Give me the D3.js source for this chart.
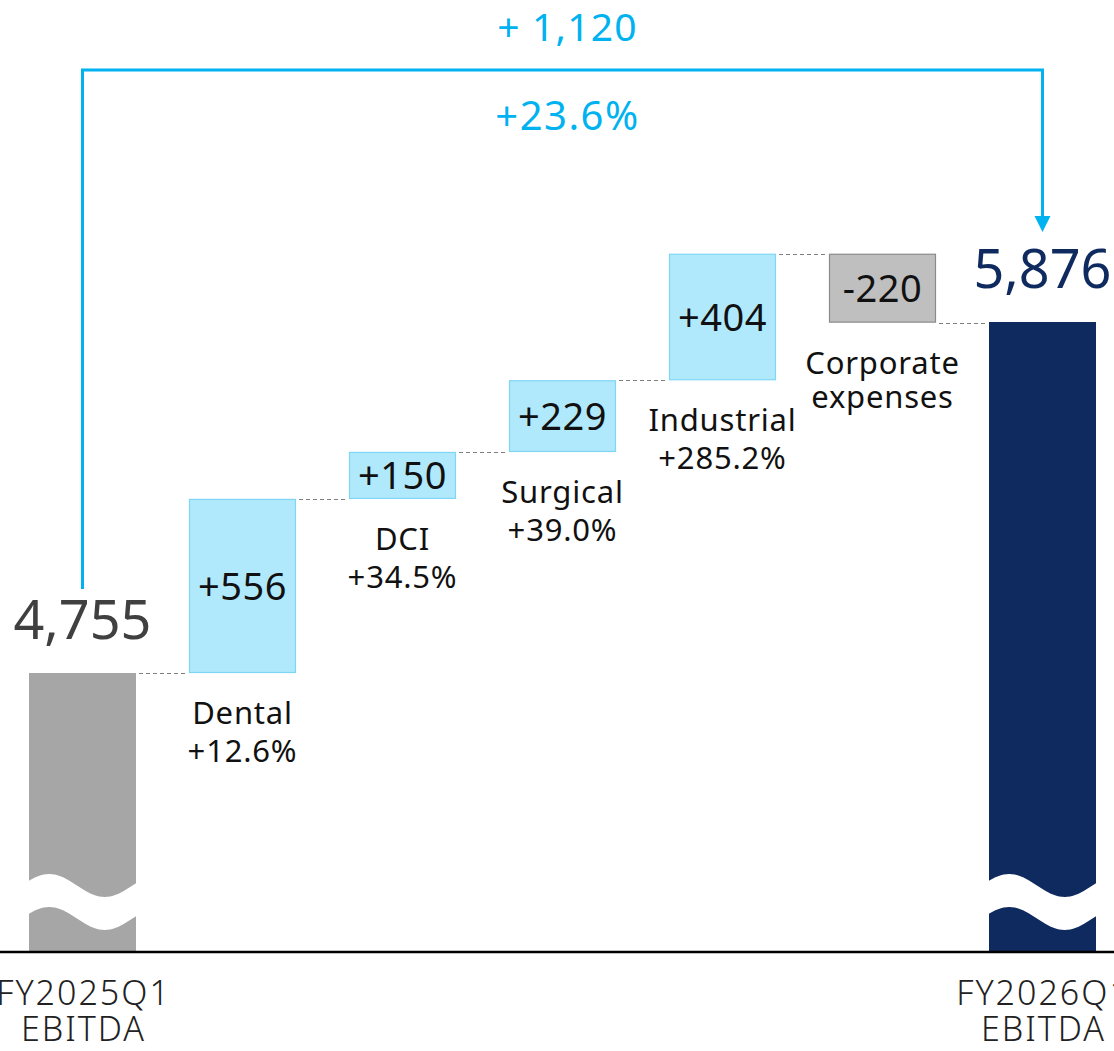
<!DOCTYPE html>
<html>
<head>
<meta charset="utf-8">
<title>EBITDA bridge</title>
<script src="https://cdn.jsdelivr.net/npm/d3@7"></script>
<style>
  body { margin: 0; background: #fff; }
  svg text { font-family: "Noto Sans", sans-serif; }
  .light { font-weight: 300; }
</style>
</head>
<body>
<div id="chart"></div>
<script>
// values
var startLabel = ["FY2025Q1", "EBITDA"];
var endLabel = ["FY2026Q1", "EBITDA"];
var startValue = 4755;
var endValue = 5876;
var stepNames = ["Dental", "DCI", "Surgical", "Industrial", "Corporate"];
var stepLabels = [["Dental", "+12.6%"], ["DCI", "+34.5%"], ["Surgical", "+39.0%"], ["Industrial", "+285.2%"], ["Corporate", "expenses"]];
var deltas = [556, 150, 229, 404, -220];
var totalChange = "+ 1,120";
var totalPct = "+23.6%";

var width = 1114, height = 1051;
var baseY = 952;
var cyan = "#00b2ef", navy = "#0f2a5e";

var svg = d3.select("#chart").append("svg")
  .attr("width", width)
  .attr("height", height);

var cats = ["start"].concat(stepNames, ["end"]);
var x = d3.scaleBand()
  .domain(cats)
  .range([2.5, 1122.5])
  .paddingInner(0.33125)
  .paddingOuter(0.165625);

var y = d3.scaleLinear()
  .domain([startValue, endValue])
  .range([673, 322]);

// running totals
var steps = [];
var cum = startValue;
deltas.forEach(function(d, i) {
  steps.push({ name: stepNames[i], label: stepLabels[i], d: d, from: cum, to: cum + d });
  cum += d;
});

var bw = x.bandwidth();

// connectors
var levels = [startValue].concat(steps.map(function(s) { return s.to; }));
svg.selectAll(".conn").data(levels).enter().append("line")
  .attr("class", "conn")
  .attr("x1", function(v, i) { return x(cats[i]) + bw + 3; })
  .attr("x2", function(v, i) { return x(cats[i + 1]) - 3; })
  .attr("y1", function(v) { return Math.round(y(v)) + 0.5; })
  .attr("y2", function(v) { return Math.round(y(v)) + 0.5; })
  .attr("stroke", "#7f7f7f")
  .attr("stroke-width", 1.2)
  .attr("stroke-dasharray", "4,3");

// total bars (broken axis)
var totals = [{ k: "start", v: startValue, fill: "#a6a6a6", tc: "#404040" },
              { k: "end", v: endValue, fill: navy, tc: navy }];

svg.selectAll(".tot").data(totals).enter().append("rect")
  .attr("class", "tot")
  .attr("x", function(d) { return x(d.k); })
  .attr("y", function(d) { return y(d.v); })
  .attr("width", bw)
  .attr("height", function(d) { return baseY - y(d.v); })
  .attr("fill", function(d) { return d.fill; });

// wavy break
function wavePath(x0, w) {
  var top = [], bot = [];
  var n = 40, th = 16.5;
  for (var i = 0; i <= n; i++) {
    var t = i / n;
    var cy = baseY - 50 - 11.5 * Math.cos(2 * Math.PI * (t - 0.2));
    top.push([x0 - 2 + t * (w + 4), cy - th]);
    bot.push([x0 - 2 + t * (w + 4), cy + th]);
  }
  return d3.line()(top.concat(bot.reverse())) + "Z";
}
svg.selectAll(".brk").data(totals).enter().append("path")
  .attr("class", "brk")
  .attr("d", function(d) { return wavePath(x(d.k), bw); })
  .attr("fill", "#fff");

svg.selectAll(".totlbl").data(totals).enter().append("text")
  .attr("class", "totlbl")
  .attr("x", function(d) { return x(d.k) + bw / 2; })
  .attr("y", function(d) { return y(d.v) - 34; })
  .attr("text-anchor", "middle")
  .attr("font-size", 54)
  .attr("fill", function(d) { return d.tc; })
  .text(function(d) { return d3.format(",")(d.v); });

// delta boxes
svg.selectAll(".step").data(steps).enter().append("rect")
  .attr("class", "step")
  .attr("x", function(s) { return x(s.name) + 0.5; })
  .attr("y", function(s) { return y(Math.max(s.from, s.to)) + 0.5; })
  .attr("width", bw - 1)
  .attr("height", function(s) { return Math.abs(y(s.from) - y(s.to)) - 1; })
  .attr("fill", function(s) { return s.d > 0 ? "#b1e9fc" : "#bfbfbf"; })
  .attr("stroke", function(s) { return s.d > 0 ? "#7fd5f6" : "#8a8a8a"; })
  .attr("stroke-width", 1.2);

svg.selectAll(".steplbl").data(steps).enter().append("text")
  .attr("class", "steplbl")
  .attr("x", function(s) { return x(s.name) + bw / 2; })
  .attr("y", function(s) { return (y(s.from) + y(s.to)) / 2; })
  .attr("dy", "0.36em")
  .attr("text-anchor", "middle")
  .attr("font-size", 38)
  .attr("letter-spacing", 0.5)
  .attr("fill", "#111")
  .text(function(s) { return (s.d > 0 ? "+" : "") + s.d; });

// category labels under boxes
svg.selectAll(".catlbl").data(steps).enter().append("text")
  .attr("class", "catlbl")
  .attr("text-anchor", "middle")
  .attr("font-size", 31)
  .attr("letter-spacing", 0.8)
  .attr("fill", "#111")
  .each(function(s) {
    var t = d3.select(this);
    var cx = x(s.name) + bw / 2;
    var y0 = y(Math.min(s.from, s.to)) + 51;
    var lh = s.d > 0 ? 38 : 34;
    s.label.forEach(function(line, j) {
      t.append("tspan").attr("x", cx).attr("y", y0 + j * lh).text(line);
    });
  });

// axis line and end labels
svg.append("line")
  .attr("x1", 0).attr("x2", width)
  .attr("y1", baseY).attr("y2", baseY)
  .attr("stroke", "#000").attr("stroke-width", 2.5);

[{ k: "start", l: startLabel }, { k: "end", l: endLabel }].forEach(function(a) {
  var t = svg.append("text")
    .attr("class", "light")
    .attr("text-anchor", "middle")
    .attr("font-size", 34)
    .attr("letter-spacing", 2)
    .attr("fill", "#222");
  a.l.forEach(function(line, j) {
    t.append("tspan").attr("x", x(a.k) + bw / 2 + 1).attr("y", baseY + 53 + j * 36).text(line);
  });
});

// total change bracket
var xa = x("start") + bw / 2, xb = x("end") + bw / 2;
var topY = 70;
svg.append("path")
  .attr("d", "M" + xa + "," + (y(startValue) - 84) + "V" + topY + "H" + xb + "V" + (y(endValue) - 105))
  .attr("fill", "none")
  .attr("stroke", cyan)
  .attr("stroke-width", 3);
svg.append("path")
  .attr("d", "M" + (xb - 8) + "," + (y(endValue) - 106) + "L" + (xb + 8) + "," + (y(endValue) - 106) + "L" + xb + "," + (y(endValue) - 90) + "Z")
  .attr("fill", cyan);

svg.append("text")
  .attr("x", (xa + xb) / 2 + 5).attr("y", 41)
  .attr("text-anchor", "middle")
  .attr("font-size", 39)
  .attr("letter-spacing", 1.2)
  .attr("fill", cyan)
  .text(totalChange);
svg.append("text")
  .attr("x", (xa + xb) / 2 + 5).attr("y", 130)
  .attr("text-anchor", "middle")
  .attr("font-size", 40)
  .attr("letter-spacing", 1.5)
  .attr("fill", cyan)
  .text(totalPct);
</script>
</body>
</html>
